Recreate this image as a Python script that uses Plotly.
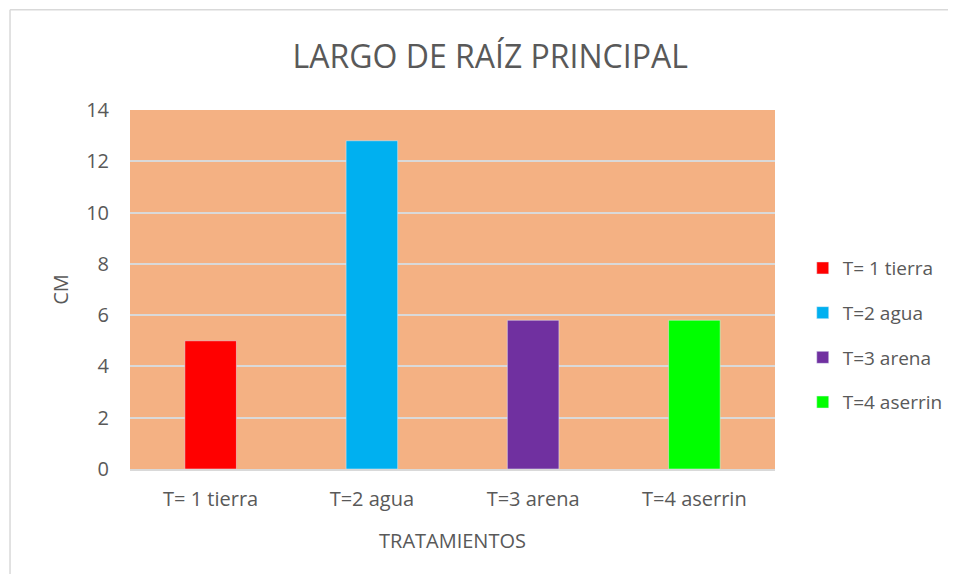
"""Bar chart: largo de raiz principal por tratamiento"""

import plotly.graph_objects as go

tratamientos = ['T= 1 tierra', 'T=2 agua', 'T=3 arena', 'T=4 aserrin']
largo_cm = [5.0, 12.8, 5.8, 5.8]
colores = ['#FF0000', '#00B0F0', '#7030A0', '#00FF00']

FONT = 'Open Sans, sans-serif'
GRIS = '#595959'

fig = go.Figure()
for nombre, valor, color in zip(tratamientos, largo_cm, colores):
    fig.add_trace(go.Bar(name=nombre, x=[nombre], y=[valor], legendgroup=nombre,
                         marker_color=color, width=0.32))

# la pagina tiene 8px de margen en el body: figura algo menor para no
# desbordar la ventana
fig.update_layout(
    width=940, height=566,
    margin={'l': 122, 'r': 173, 't': 102, 'b': 105, 'autoexpand': False},
    paper_bgcolor='white', plot_bgcolor='#F4B183',
    barmode='overlay',
    font={'family': FONT, 'color': GRIS, 'size': 18},
    title={'text': 'LARGO DE RAÍZ PRINCIPAL', 'x': 0.513, 'xanchor': 'center',
           'y': 0.913, 'yanchor': 'middle',
           'font': {'size': 32, 'color': GRIS, 'family': FONT}},
    legend={'x': 1.043, 'xanchor': 'left', 'y': 0.373, 'yanchor': 'middle',
            'tracegroupgap': 17, 'itemwidth': 30,
            'font': {'size': 19, 'color': GRIS}},
    showlegend=True,
)
fig.update_xaxes(categoryorder='array', categoryarray=tratamientos,
                 showgrid=False, showline=True, linecolor='#D9D9D9',
                 linewidth=2, ticks='', tickfont={'size': 20},
                 ticklabelstandoff=11,
                 title={'text': 'TRATAMIENTOS', 'font': {'size': 20},
                        'standoff': 23})
fig.update_yaxes(range=[0, 14], dtick=2, showgrid=True, gridcolor='#D9D9D9',
                 gridwidth=2, zeroline=False, showline=False, ticks='',
                 tickfont={'size': 20}, ticklabelstandoff=20,
                 title={'text': 'CM', 'font': {'size': 20}, 'standoff': 12})

# marco del grafico (solo lados visibles: arriba e izquierda)
marco = {'color': '#D9D9D9', 'width': 1.5}
fig.add_shape(type='line', xref='paper', yref='paper',
              x0=-0.186, x1=1.3, y0=1.279, y1=1.279, line=marco)
fig.add_shape(type='line', xref='paper', yref='paper',
              x0=-0.186, x1=-0.186, y0=-0.4, y1=1.279, line=marco)

fig.write_html("out.html")
